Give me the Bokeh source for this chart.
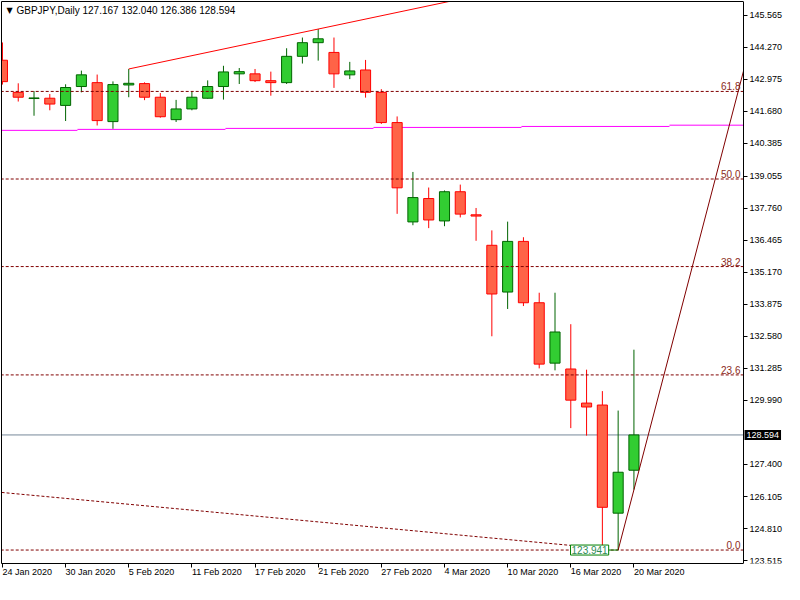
from bokeh.plotting import figure
from bokeh.models import (Range1d, FixedTicker, Label, ColumnDataSource, NumeralTickFormatter,
                          LinearAxis)
from bokeh.core.properties import value
from bokeh.embed import file_html
from bokeh.resources import INLINE

symbol = "GBPJPY"
period = "Daily"

dates = ["24 Jan 2020", "27 Jan 2020", "28 Jan 2020", "29 Jan 2020", "30 Jan 2020", "31 Jan 2020",
         "3 Feb 2020", "4 Feb 2020", "5 Feb 2020", "6 Feb 2020", "7 Feb 2020",
         "10 Feb 2020", "11 Feb 2020", "12 Feb 2020", "13 Feb 2020", "14 Feb 2020",
         "17 Feb 2020", "18 Feb 2020", "19 Feb 2020", "20 Feb 2020", "21 Feb 2020",
         "24 Feb 2020", "25 Feb 2020", "26 Feb 2020", "27 Feb 2020", "28 Feb 2020",
         "2 Mar 2020", "3 Mar 2020", "4 Mar 2020", "5 Mar 2020", "6 Mar 2020",
         "9 Mar 2020", "10 Mar 2020", "11 Mar 2020", "12 Mar 2020", "13 Mar 2020",
         "16 Mar 2020", "17 Mar 2020", "18 Mar 2020", "19 Mar 2020", "20 Mar 2020"]

opens = [143.742, 142.443, 142.194, 142.206, 141.915, 142.679, 142.836, 141.261, 142.742, 142.797,
         142.246, 141.340, 141.773, 142.206, 142.679, 143.191, 143.191, 142.915, 142.836, 143.899,
         144.451, 144.057, 143.151, 143.348, 142.443, 141.222, 137.206, 138.151, 137.245, 138.426,
         137.493, 136.261, 134.371, 136.418, 133.938, 131.496, 131.260, 129.882, 129.803, 125.432,
         127.167]
highs = [144.460, 142.809, 142.494, 142.376, 142.769, 143.321, 143.163, 142.887, 143.388, 142.848,
         142.415, 142.139, 142.494, 142.927, 143.517, 143.427, 143.388, 143.281, 144.226, 144.659,
         145.002, 144.659, 143.675, 143.754, 142.572, 141.470, 139.226, 138.596, 138.477, 138.714,
         137.769, 136.863, 137.217, 136.587, 134.343, 134.343, 133.071, 131.232, 130.366, 129.579,
         132.040]
lows = [142.758, 142.072, 141.498, 141.718, 141.285, 142.443, 141.104, 140.970, 142.246, 142.128,
        141.419, 141.246, 141.718, 142.190, 142.151, 142.781, 142.860, 142.309, 142.781, 143.608,
        143.726, 142.624, 142.978, 142.230, 141.167, 137.532, 137.072, 136.954, 137.032, 137.387,
        136.442, 132.583, 133.686, 133.804, 131.284, 131.205, 128.870, 128.567, 124.010, 123.941,
        126.386]
closes = [142.876, 142.246, 142.218, 141.970, 142.639, 143.151, 141.301, 142.758, 142.809, 142.246,
          141.458, 141.773, 142.246, 142.679, 143.269, 143.281, 142.915, 142.836, 143.899, 144.451,
          144.608, 143.191, 143.309, 142.443, 141.222, 138.584, 138.190, 137.284, 138.426, 137.521,
          137.442, 134.292, 136.418, 133.938, 131.457, 132.756, 130.000, 129.724, 125.669, 127.086,
          128.594]

y_ticks = [123.515, 124.810, 126.105, 127.400, 129.990, 131.285, 132.580, 133.875, 135.170,
           136.465, 137.760, 139.055, 140.385, 141.680, 142.975, 144.270, 145.565]
date_tick_bars = [0, 4, 8, 12, 16, 20, 24, 28, 32, 36, 40]

# Fibonacci retracement anchors
fib_low_bar, fib_low = 39, 123.941
fib_high_bar, fib_high = 51.3, 153.94
fib_levels = [0.0, 23.6, 38.2, 50.0, 61.8]

# trend lines
up_trend_bars = [8, 20]
up_trend_prices = [143.388, 145.002]
down_trend_bars = [-1, 38]
down_trend_prices = [126.326, 124.010]

# magenta step indicator
ma_breaks = [-1, 4.75, 14.125, 23.5, 32.875, 42.25, 48]
ma_values = [140.907, 140.946, 140.986, 141.025, 141.065, 141.116]

FONT = "Liberation Sans"
n = len(dates)
xs = list(range(n))

# layout: chart area up to the price scale line, then a 40px price scale inside the frame
W, H = 784, 584
frame_w = W - 2
scale_px = 40
x_lo, x_axis = -0.06, 46.94
x_hi = x_lo + (x_axis - x_lo) * frame_w / (frame_w - scale_px)
y_lo, y_hi = 123.397, 146.116
px_bar = (frame_w - scale_px) / (x_axis - x_lo)

p = figure(width=W, height=H, x_range=Range1d(x_lo, x_hi), y_range=Range1d(y_lo, y_hi),
           y_axis_location="right", output_backend="svg", toolbar_location=None,
           min_border_left=1, min_border_top=1, min_border_right=1, min_border_bottom=18)
p.grid.visible = False
p.outline_line_color = None
p.background_fill_color = "white"
p.border_fill_color = "white"

# price scale (inside the frame at the chart's right edge)
ya = p.yaxis[0]
ya.fixed_location = x_axis
ya.ticker = FixedTicker(ticks=y_ticks)
ya.formatter = NumeralTickFormatter(format="0.000")
xa = p.xaxis[0]
xa.bounds = (x_lo, x_axis)
xa.ticker = FixedTicker(ticks=date_tick_bars)
xa.major_label_overrides = {i: dates[i] for i in date_tick_bars}
xa.major_label_orientation = -0.0001
for ax in (ya, xa):
    ax.axis_line_color = "black"
    ax.major_tick_line_color = "black"
    ax.major_tick_out = 4
    ax.major_tick_in = 0
    ax.minor_tick_out = 0
    ax.minor_tick_in = 0
    ax.major_label_text_font = FONT
    ax.major_label_text_font_size = "9px"
    ax.major_label_text_color = "black"
ya.major_label_standoff = 2
xa.major_label_standoff = 4

# left and top border lines of the chart window
p.add_layout(LinearAxis(ticker=FixedTicker(ticks=[]), axis_line_color="black",
                        major_tick_out=0, major_tick_in=0, minor_tick_out=0, minor_tick_in=0), "left")
p.add_layout(LinearAxis(ticker=FixedTicker(ticks=[]), axis_line_color="black", bounds=(x_lo, x_axis),
                        major_tick_out=0, major_tick_in=0, minor_tick_out=0, minor_tick_in=0), "above")

# magenta indicator (behind candles)
p.segment(x0=ma_breaks[:-1], x1=[min(b, x_axis) for b in ma_breaks[1:]], y0=ma_values, y1=ma_values,
          line_color="#FF00FF", line_width=1, level="underlay")

# current price line
p.segment(x0=[x_lo - 1], x1=[x_axis], y0=[closes[-1]], y1=[closes[-1]], line_color="#778899",
          line_width=1, level="underlay")

# candles
bull_fill, bull_line = "#32CD32", "#006400"
bear_fill, bear_line = "#FF6347", "#FF0000"
fill = [bull_fill if c >= o else bear_fill for o, c in zip(opens, closes)]
line = [bull_line if c >= o else bear_line for o, c in zip(opens, closes)]
src = ColumnDataSource(dict(x=xs, high=highs, low=lows,
                            top=[max(o, c) for o, c in zip(opens, closes)],
                            bottom=[min(o, c) for o, c in zip(opens, closes)],
                            fill=fill, line=line))
p.segment(x0="x", y0="high", x1="x", y1="low", line_color="line", line_width=1, source=src)
p.vbar(x="x", width=0.64, top="top", bottom="bottom", fill_color="fill", line_color="line",
       line_width=1, source=src)

# up trend line (ray to the price scale)
slope = (up_trend_prices[1] - up_trend_prices[0]) / (up_trend_bars[1] - up_trend_bars[0])
p.line(x=[up_trend_bars[0], x_axis],
       y=[up_trend_prices[0], up_trend_prices[0] + slope * (x_axis - up_trend_bars[0])],
       line_color="#FF0000", line_width=1)

# down trend (dashed)
p.line(x=down_trend_bars, y=down_trend_prices, line_color="#800000", line_width=1, line_dash="3 2")

# fibonacci retracement
fib_color = "#800000"
fib_prices = [fib_low + (fib_high - fib_low) * lv / 100.0 for lv in fib_levels]
p.segment(x0=[x_lo - 1] * len(fib_prices), x1=[x_axis] * len(fib_prices), y0=fib_prices,
          y1=fib_prices, line_color=fib_color, line_width=1, line_dash="3 2")
fslope = (fib_high - fib_low) / (fib_high_bar - fib_low_bar)
p.line(x=[fib_low_bar, x_axis], y=[fib_low, fib_low + fslope * (x_axis - fib_low_bar)],
       line_color=fib_color, line_width=1)
p.text(x=[x_axis] * len(fib_levels), y=fib_prices, text=["%.1f" % lv for lv in fib_levels],
       text_align="right", text_baseline="bottom", x_offset=-3, y_offset=-1,
       text_font=value(FONT), text_font_size="10px", text_color="#8B2A1A")

# low price label
p.segment(x0=[fib_low_bar - 0.6], x1=[fib_low_bar], y0=[fib_low], y1=[fib_low],
          line_color="#008000", line_width=1)
p.add_layout(Label(x=fib_low_bar - 0.6, y=fib_low, text="%.3f" % fib_low, text_align="right",
                   text_baseline="middle", text_font=FONT, text_font_size="10px",
                   text_color="#2E8B57", background_fill_color="white",
                   border_line_color="#008000", border_line_width=1, padding=1))

# current price box on the price scale
p.add_layout(Label(x=x_axis, y=closes[-1], x_offset=1, text="%.3f" % closes[-1], text_align="left",
                   text_baseline="middle", text_font=FONT, text_font_size="9px",
                   text_color="white", background_fill_color="black", padding=2))

# header
px_price = 556.0 / (y_hi - y_lo)
head_y = y_hi - 4.0 / px_price
p.add_layout(Label(x=x_lo + 5.0 / px_bar, y=head_y, text="\u25BC", text_baseline="top",
                   text_font="DejaVu Sans", text_font_size="8px", text_color="black"))
head = "%s,%s  %.3f %.3f %.3f %.3f" % (symbol, period, opens[-1], highs[-1], lows[-1], closes[-1])
p.add_layout(Label(x=x_lo + 15.0 / px_bar, y=head_y + 1.0 / px_price, text=head,
                   text_baseline="top", text_font=FONT, text_font_size="10px",
                   text_color="black"))

open("out.html", "w").write(file_html(p, INLINE))
